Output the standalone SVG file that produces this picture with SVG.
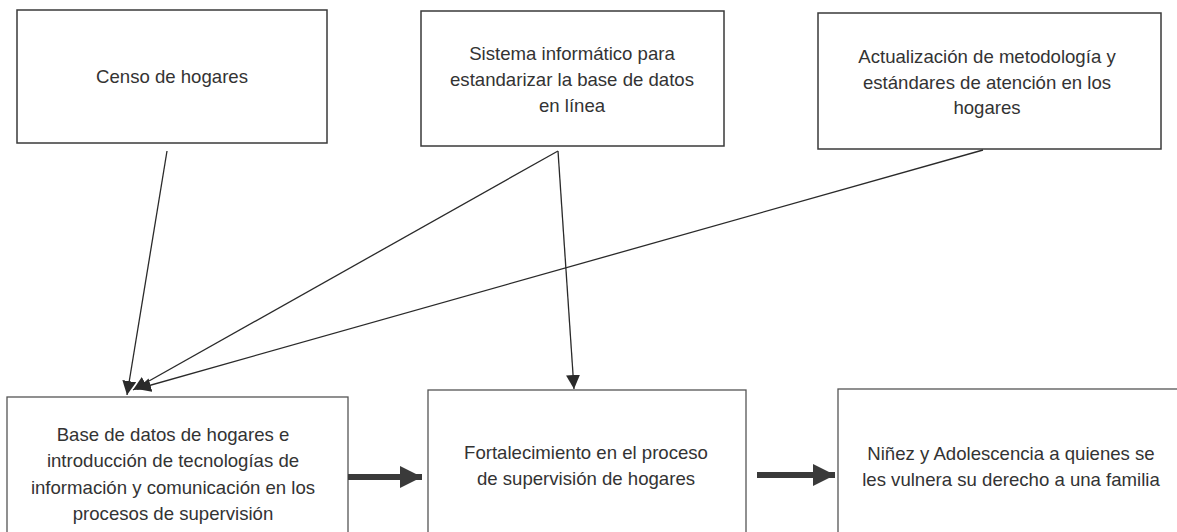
<svg xmlns="http://www.w3.org/2000/svg" width="1177" height="532" viewBox="0 0 1177 532">
<style>
  .box { fill: #ffffff; stroke: #3a3a3a; stroke-width: 1.5; }
  .box2 { fill: #ffffff; stroke: #555555; stroke-width: 1.3; }
  .lbl { font-family: "Liberation Sans", Arial, sans-serif; font-size: 18.6px; fill: #333333; text-anchor: middle; }
  .thin { stroke: #2a2a2a; stroke-width: 1.3; fill: none; marker-end: url(#ah); }
  .thick { stroke: #3a3a3a; stroke-width: 6; fill: none; marker-end: url(#bh); }
</style>
<defs>
  <marker id="ah" markerUnits="userSpaceOnUse" markerWidth="16" markerHeight="14" refX="14" refY="7" orient="auto">
    <path d="M0,0 L14,7 L0,14 Z" fill="#2a2a2a"/>
  </marker>
  <marker id="bh" markerUnits="userSpaceOnUse" markerWidth="24" markerHeight="24" refX="22" refY="11" orient="auto">
    <path d="M0,0 L22,11 L0,22 Z" fill="#3a3a3a"/>
  </marker>
</defs>
<rect width="1177" height="532" fill="#ffffff"/>

<g id="n1">
  <rect class="box" x="17" y="10" width="310" height="133"/>
  <text class="lbl" x="172" y="83">Censo de hogares</text>
</g>
<g id="n2">
  <rect class="box" x="421" y="11" width="303" height="135"/>
  <text class="lbl" x="572" y="60">Sistema informático para</text>
  <text class="lbl" x="572" y="86">estandarizar la base de datos</text>
  <text class="lbl" x="572" y="112">en línea</text>
</g>
<g id="n3">
  <rect class="box" x="818" y="13" width="343" height="136"/>
  <text class="lbl" x="987" y="63">Actualización de metodología y</text>
  <text class="lbl" x="987" y="89">estándares de atención en los</text>
  <text class="lbl" x="987" y="114">hogares</text>
</g>
<g id="n4">
  <rect class="box2" x="7" y="397" width="341" height="140"/>
  <text class="lbl" x="173" y="441">Base de datos de hogares e</text>
  <text class="lbl" x="173" y="467">introducción de tecnologías de</text>
  <text class="lbl" x="173" y="494">información y comunicación en los</text>
  <text class="lbl" x="173" y="520">procesos de supervisión</text>
</g>
<g id="n5">
  <rect class="box2" x="428" y="390" width="318" height="147"/>
  <text class="lbl" x="586" y="459">Fortalecimiento en el proceso</text>
  <text class="lbl" x="586" y="485">de supervisión de hogares</text>
</g>
<g id="n6">
  <rect class="box2" x="838" y="389" width="346" height="148"/>
  <text class="lbl" x="1011" y="460">Niñez y Adolescencia a quienes se</text>
  <text class="lbl" x="1011" y="486">les vulnera su derecho a una familia</text>
</g>

<g id="connectors">
  <line class="thin" x1="167" y1="151" x2="127" y2="395"/>
  <line class="thin" x1="558" y1="151" x2="133" y2="390"/>
  <line class="thin" x1="558" y1="151" x2="574" y2="389"/>
  <line class="thin" x1="983" y1="150" x2="137" y2="389"/>
  <line class="thick" x1="348" y1="477" x2="422" y2="477"/>
  <line class="thick" x1="757" y1="475" x2="835" y2="475"/>
</g>
</svg>
